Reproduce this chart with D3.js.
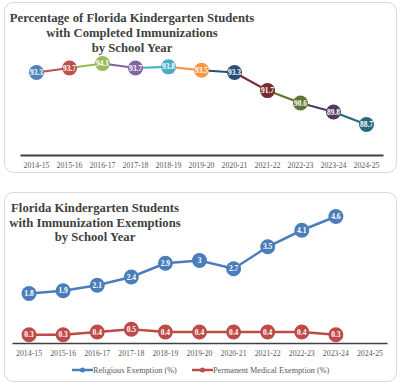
<!DOCTYPE html>
<html><head><meta charset="utf-8">
<script src="https://cdn.jsdelivr.net/npm/d3@7"></script>
<style>body{margin:0;background:#fff;}svg{display:block;}</style>
</head><body>
<svg id="c" width="400" height="386"></svg>
<script>
const years = ["2014-15","2015-16","2016-17","2017-18","2018-19","2019-20","2020-21","2021-22","2022-23","2023-24","2024-25"];
const completed = [93.3,93.7,94.1,93.7,93.8,93.5,93.3,91.7,90.6,89.8,88.7];
const pointColors = ["#4f81bd","#c0504d","#9bbb59","#8064a2","#4bacc6","#f79646","#2c4d75","#772c2a","#5f7530","#4d3b62","#276a7c"];
const religious = [1.8,1.9,2.1,2.4,2.9,3,2.7,3.5,4.1,4.6];
const medical = [0.3,0.3,0.4,0.5,0.4,0.4,0.4,0.4,0.4,0.3];
const topTitle = ["Percentage of Florida Kindergarten Students","with Completed Immunizations","by School Year"];
const botTitle = ["Florida Kindergarten Students","with Immunization Exemptions","by School Year"];
const seriesNames = ["Religious Exemption (%)","Permanent Medical Exemption (%)"];
const seriesColors = ["#4a7ebb","#be4b48"];

const svg = d3.select("#c");
const serif = "Liberation Serif";

// panels
svg.append("rect").attr("x",4.5).attr("y",2.5).attr("width",392).attr("height",170).attr("rx",9)
  .attr("fill","#fff").attr("stroke","#d9d9d9").attr("stroke-width",1);
svg.append("rect").attr("x",4.5).attr("y",192.5).attr("width",392).attr("height",189).attr("rx",9)
  .attr("fill","#fff").attr("stroke","#d9d9d9").attr("stroke-width",1);

// ---------- Top chart ----------
const x1 = d3.scaleBand().domain(years).range([20,383]);
const y1 = d3.scaleLinear().domain([86,96]).range([155,42]);

svg.append("g").selectAll("text").data(topTitle).join("text")
  .attr("x",132).attr("y",(d,i)=>22+i*15).attr("text-anchor","middle")
  .attr("font-family",serif).attr("font-weight","bold").attr("font-size",12.7).attr("fill","#404040").text(d=>d);

const ax1 = svg.append("g").attr("transform","translate(0,155)")
  .call(d3.axisBottom(x1).tickSize(0).tickPadding(7));
ax1.attr("font-family",serif);
ax1.select(".domain").attr("stroke","#404040").attr("stroke-width",2);
ax1.selectAll("text").attr("font-family",serif).attr("font-size",7.8).attr("fill","#595959");

const segs = completed.slice(1).map((v,i)=>({a:i,b:i+1}));
svg.append("g").selectAll("line").data(segs).join("line")
  .attr("x1",d=>x1(years[d.a])+x1.bandwidth()/2).attr("y1",d=>y1(completed[d.a]))
  .attr("x2",d=>x1(years[d.b])+x1.bandwidth()/2).attr("y2",d=>y1(completed[d.b]))
  .attr("stroke",d=>pointColors[d.b]).attr("stroke-width",2.2);
const g1 = svg.append("g").selectAll("g").data(completed).join("g")
  .attr("transform",(d,i)=>`translate(${x1(years[i])+x1.bandwidth()/2},${y1(d)})`);
g1.append("circle").attr("r",7.5).attr("fill",(d,i)=>pointColors[i]);
g1.append("text").attr("text-anchor","middle").attr("dy","0.35em")
  .attr("font-family",serif).attr("font-weight","bold").attr("font-size",7.5).attr("fill","#fff")
  .text(d=>d.toFixed(1));

// ---------- Bottom chart ----------
const x2 = d3.scaleBand().domain(years).range([12,387]);
const y2 = d3.scaleLinear().domain([0,5]).range([343,205.5]);

svg.append("g").selectAll("text").data(botTitle).join("text")
  .attr("x",95).attr("y",(d,i)=>212+i*14.5).attr("text-anchor","middle")
  .attr("font-family",serif).attr("font-weight","bold").attr("font-size",12.7).attr("fill","#404040").text(d=>d);

const ax2 = svg.append("g").attr("transform","translate(0,343)")
  .call(d3.axisBottom(x2).tickSize(0).tickPadding(7));
ax2.attr("font-family",serif);
ax2.select(".domain").attr("stroke","#404040").attr("stroke-width",1.5);
ax2.selectAll("text").attr("font-family",serif).attr("font-size",7.8).attr("fill","#595959");

const cx2 = (d,i)=>x2(years[i])+x2.bandwidth()/2;
[religious, medical].forEach((vals,s)=>{
  svg.append("path").datum(vals)
    .attr("d", d3.line().x(cx2).y(d=>y2(d)))
    .attr("fill","none").attr("stroke",seriesColors[s]).attr("stroke-width",2.5);
  const g = svg.append("g").selectAll("g").data(vals).join("g")
    .attr("transform",(d,i)=>`translate(${cx2(d,i)},${y2(d)})`);
  g.append("circle").attr("r",7.5).attr("fill",seriesColors[s]);
  g.append("text").attr("text-anchor","middle").attr("dy","0.35em")
    .attr("font-family",serif).attr("font-weight","bold").attr("font-size",7.5).attr("fill","#fff")
    .text(d=>d);
});

// legend
const legX = [72,192];
seriesNames.forEach((n,s)=>{
  const lg = svg.append("g").attr("transform",`translate(${legX[s]},370)`);
  lg.append("line").attr("x1",0).attr("x2",21).attr("stroke",seriesColors[s]).attr("stroke-width",2.5);
  lg.append("circle").attr("cx",10.5).attr("r",2.5).attr("fill",seriesColors[s]);
  lg.append("text").attr("x",21).attr("dy","0.33em").attr("font-family",serif).attr("font-size",8.2)
    .attr("fill","#595959").text(n);
});
</script>
</body></html>
